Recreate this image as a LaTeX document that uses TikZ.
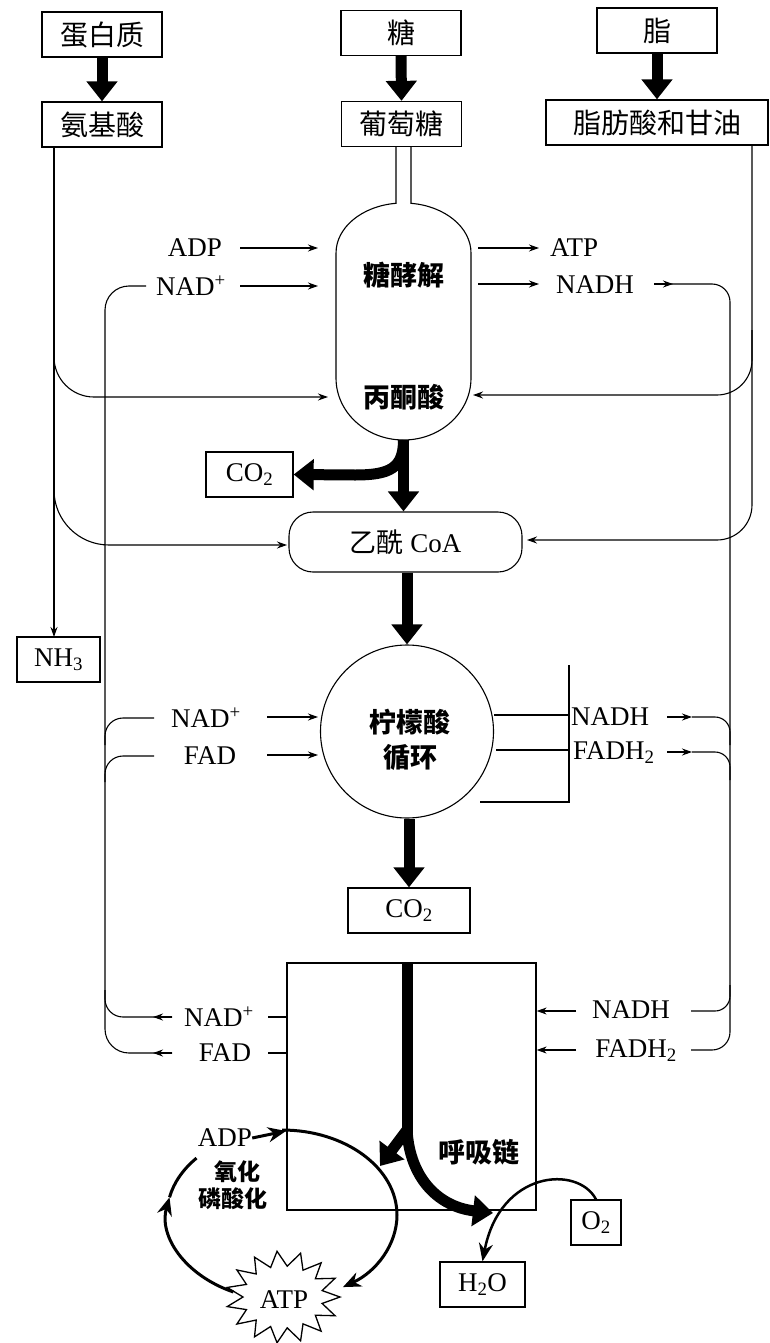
\documentclass[tikz,border=0pt]{standalone}
\usepackage{fontspec}
\setmainfont{Liberation Serif}
\newfontfamily\cjk{Noto Sans CJK SC}
\usetikzlibrary{arrows.meta}
\begin{document}
\begin{tikzpicture}[x=1pt,y=-1pt,
  box/.style={draw, line width=1.3pt, inner sep=0pt, minimum width=120pt, minimum height=45pt},
  lbl/.style={inner sep=0pt, font=\fontsize{27}{30}\selectfont},
  cj/.style={inner sep=0pt, font=\fontsize{28}{32}\selectfont\cjk},
  cjb/.style={inner sep=0pt, font=\fontsize{27}{31}\selectfont\cjk\bfseries},
  thin/.style={line width=1.1pt},
  tip/.style={thin, -{Stealth[length=10pt,width=7pt]}},
  fat/.style={line width=11pt, -{Triangle[length=20pt,width=30pt]}},
  loopar/.style={line width=3pt, -{Stealth[length=18pt,width=15pt]}},
  loopln/.style={line width=3pt},
]
\fill[white] (0,0) rectangle (769,1343);
\useasboundingbox (0,0) rectangle (769,1343);

% top boxes
\node[box, cj] (protein) at (102,34.5) {蛋白质};
\node[box, cj] (amino) at (102,124.5) {氨基酸};
\node[box, cj] (sugar) at (401,33) {糖};
\node[box, cj] (glucose) at (401.5,124) {葡萄糖};
\node[box, cj] (fat) at (657,30.5) {脂};
\node[box, cj, minimum width=222pt] (fatty) at (657,122.5) {脂肪酸和甘油};
\draw[fat] (protein.south) -- (amino.north);
\draw[fat] (sugar.south) -- (glucose.north);
\draw[fat] (fat.south) -- (fatty.north);

% glycolysis pill
\draw[thin] (396,147) -- (396,203.3) arc[start angle=263.6, end angle=180, x radius=67.5, y radius=50]
  -- (336,378) arc[start angle=180, end angle=0, x radius=67.5, y radius=62]
  -- (471,253) arc[start angle=360, end angle=276.4, x radius=67.5, y radius=50] -- (411,147);
\coordinate (pillbot) at (403.5,440);
\node[cjb] (glyc) at (404,275) {糖酵解};
\node[cjb] (pyr) at (404,397) {丙酮酸};

% glycolysis side labels
\node[lbl] (adp1) at (195,248) {ADP};
\node[lbl] (nad1) at (191,286) {NAD\textsuperscript{+}};
\node[lbl] (atp1) at (574,248) {ATP};
\node[lbl] (nadh1) at (595,285) {NADH};
\draw[tip] (240,248) -- (318,248);
\draw[tip] (240,286) -- (318,286);
\draw[tip] (478,248) -- (539,248);
\draw[tip] (478,284) -- (539,284);

% amino acid line
\node[box, lbl, minimum width=83pt] (nh3) at (58.5,659.5) {NH\textsubscript{3}};
\coordinate (aminoL) at (54,147);
\draw[tip] (aminoL) -- (54,637);
\draw[tip, rounded corners=40pt] (54,320) |- (328,397);
\draw[tip, rounded corners=55pt] (54,460) |- (287,545);

% fat line
\coordinate (fattyR) at (752,145);
\draw[tip, rounded corners=35pt] (fattyR) |- (527,540);
\draw[tip, rounded corners=35pt] (752,330) |- (473,395);

% acetyl CoA and CO2
\node[lbl] (co2a) [draw, line width=1.3pt, minimum width=87pt, minimum height=45pt] at (249.5,474.5) {CO\textsubscript{2}};
\node[draw, thin, rounded corners=24pt, minimum width=233pt, minimum height=60pt, inner sep=0pt] (acetyl) at (405.5,542)
  {\fontsize{27}{30}\selectfont{\cjk 乙酰} CoA};
\draw[fat] (pillbot) -- (pillbot |- acetyl.north);
\draw[fat] (pillbot) .. controls (403.5,468) and (390,475) .. (355,475) -- (co2a.east);

% citric acid cycle
\node[draw, thin, circle, minimum size=173pt, inner sep=0pt] (cit) at (407,731.5) {};
\node[cjb] (cit1) at (410,722) {柠檬酸};
\node[cjb] (cit2) at (410,757) {循环};
\draw[fat] (acetyl.south -| cit.north) -- (cit.north);
\node[box, lbl, minimum width=122pt] (co2b) at (409,910.5) {CO\textsubscript{2}};
\draw[fat] (cit.south -| co2b.north) -- (co2b.north);

\node[lbl] (nad2) at (206,718) {NAD\textsuperscript{+}};
\node[lbl] (fad2) at (210,756) {FAD};
\draw[tip] (267,717) -- (318,717);
\draw[tip] (267,755) -- (318,755);
\node[lbl, anchor=west] (nadh2) at (571,717) {NADH};
\node[lbl, anchor=west] (fadh2) at (573,753) {FADH\textsubscript{2}};
\draw[thin] (494,715) -- (569,715);
\draw[thin] (496,750) -- (569,750);
\draw[thin] (480,802) -- (569,802) -- (569,665);
\draw[tip] (667,717) -- (692,717);
\draw[tip] (667,752) -- (692,752);
\draw[thin, rounded corners=15pt] (692,717) -| (730,745);
\draw[thin, rounded corners=15pt] (692,752) -| (730,780);

% recycle lines
\draw[thin, rounded corners=24pt] (146,286) -- (105,286) -- (105,1053) -- (172,1053);
\draw[thin, rounded corners=18pt] (105,745) |- (154,718);
\draw[thin, rounded corners=18pt] (105,782) |- (154,756);
\draw[thin, rounded corners=18pt] (105,990) |- (172,1017);
\draw[thin, rounded corners=18pt] (654,284) -- (730,284) -- (730,1050) -- (691,1050);
\draw[thin, rounded corners=15pt] (691,1011) -| (730,985);
\draw[tip] (654,284) -- (673,284);

% respiratory chain
\node[draw, line width=1.3pt, minimum width=249pt, minimum height=247pt, inner sep=0pt] (resp) at (411.5,1086.5) {};
\node[cjb] (resplbl) at (479,1152) {呼吸链};
\node[lbl] (nad3) at (219,1017) {NAD\textsuperscript{+}};
\node[lbl] (fad3) at (225,1053) {FAD};
\node[lbl] (nadh3) at (631,1010) {NADH};
\node[lbl] (fadh3) at (636,1051) {FADH\textsubscript{2}};
\draw[thin] (268,1017) -- (resp.west |- 0,1017);
\draw[thin] (268,1053) -- (resp.west |- 0,1053);
\draw[tip] (172,1017) -- (153,1017);
\draw[tip] (172,1053) -- (153,1053);
\draw[tip] (576,1011) -- (resp.east |- 0,1011);
\draw[tip] (576,1050) -- (resp.east |- 0,1050);

\coordinate (rtop) at (407,963);
\coordinate (rsplit) at (407,1138);
\draw[line width=11pt] (rtop) -- (rsplit);
\draw[fat] (407,1130) -- (380,1166);
\draw[fat] (407,1130) .. controls (410,1180) and (440,1207) .. (493,1213);

\node[box, lbl, minimum width=50pt] (o2) at (596,1222.5) {O\textsubscript{2}};
\node[box, lbl, minimum width=85pt] (h2o) at (482.5,1284.5) {H\textsubscript{2}O};
\draw[line width=2.5pt, -{Stealth[length=18pt,width=14pt]}] (o2.north) .. controls (578,1165) and (500,1170) .. (h2o.north);

% ATP star
\draw[line width=1.3pt, fill=white] plot[samples at={0,...,29}, variable=\t]
  ({283+ifthenelse(mod(\t,2)==0,57,40)*cos(12*\t)}, {1297+ifthenelse(mod(\t,2)==0,46,31)*sin(12*\t)}) -- cycle;
\node[lbl] (atp3) at (284,1300) {ATP};

% oxidative phosphorylation loop
\node[lbl] (adp3) at (225,1138) {ADP};
\draw[loopar] (adp3.east) -- (286,1131);
\draw[loopar] (282,1130) arc[start angle=-90, end angle=58, x radius=115, y radius=85];
\draw[loopar] (233.4,1292) arc[start angle=115, end angle=192, x radius=115, y radius=85];
\draw[loopln] (169.5,1197.3) arc[start angle=192, end angle=222, x radius=115, y radius=85];
\node[inner sep=0pt, font=\fontsize{23}{26}\selectfont\cjk\bfseries] (ox1) at (237,1172) {氧化};
\node[inner sep=0pt, font=\fontsize{23}{26}\selectfont\cjk\bfseries] (ox2) at (233,1199) {磷酸化};
\end{tikzpicture}
\end{document}
